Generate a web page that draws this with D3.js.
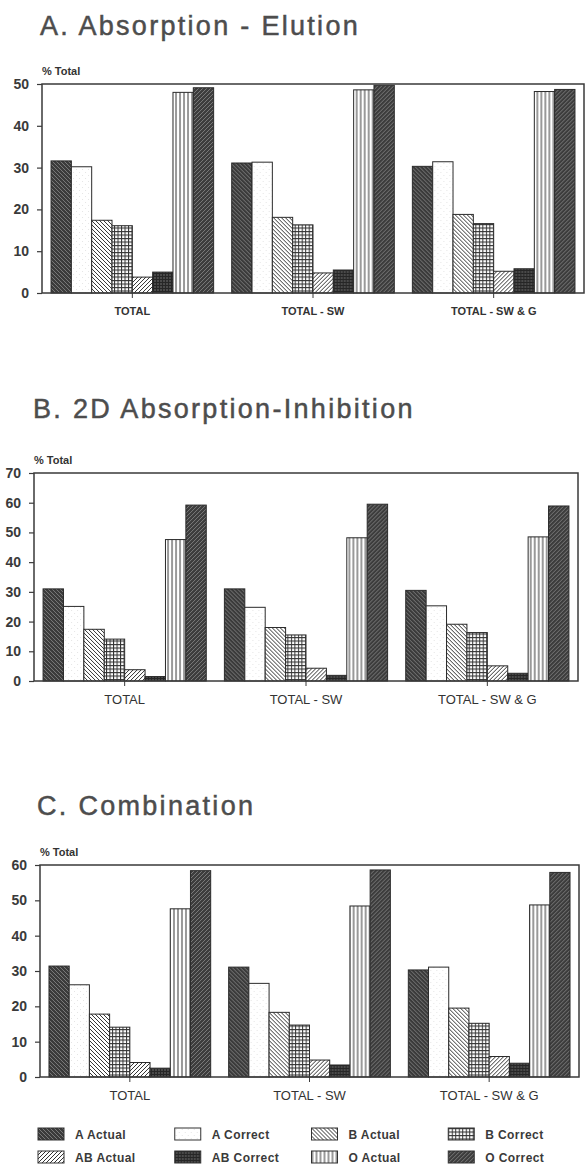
<!DOCTYPE html>
<html>
<head>
<meta charset="utf-8">
<script src="https://cdn.jsdelivr.net/npm/d3@7"></script>
<style>
  body { margin: 0; background: #fff; }
  svg { display: block; font-family: "Liberation Sans", Arial, sans-serif; }
</style>
</head>
<body>
<div id="chart"></div>
<script>
// ------------------------- data
var groups = ["TOTAL", "TOTAL - SW", "TOTAL - SW & G"];
var series = ["A Actual", "A Correct", "B Actual", "B Correct",
              "AB Actual", "AB Correct", "O Actual", "O Correct"];

// one row per group, one value per series (% of total)
var absElution = [
    [31.6, 30.2, 17.4, 16.1, 3.8, 5.0, 48.0, 49.1],
    [31.1, 31.3, 18.1, 16.3, 4.8, 5.5, 48.6, 49.7],
    [30.3, 31.4, 18.8, 16.6, 5.2, 5.8, 48.2, 48.7]
];
var absInhibition = [
    [31.0, 25.1, 17.4, 14.1, 3.8, 1.5, 47.6, 59.2],
    [31.0, 24.8, 18.0, 15.5, 4.3, 1.9, 48.2, 59.5],
    [30.5, 25.3, 19.1, 16.3, 5.1, 2.6, 48.5, 58.9]
];
var combination = [
    [31.4, 26.1, 17.8, 14.1, 4.1, 2.5, 47.6, 58.4],
    [31.1, 26.5, 18.3, 14.7, 4.8, 3.4, 48.4, 58.6],
    [30.3, 31.1, 19.5, 15.2, 5.8, 3.9, 48.7, 57.9]
];

var yTicksA = [0, 10, 20, 30, 40, 50];
var yTicksB = [0, 10, 20, 30, 40, 50, 60, 70];
var yTicksC = [0, 10, 20, 30, 40, 50, 60];

var panels = [
    { title: "A. Absorption - Elution", data: absElution, ticks: yTicksA,
      left: 42, right: 584, top: 84, bottom: 293, titleX: 40, titleY: 35, labelBold: true },
    { title: "B. 2D Absorption-Inhibition", data: absInhibition, ticks: yTicksB,
      left: 34, right: 578, top: 473, bottom: 681, titleX: 33, titleY: 418, labelBold: false },
    { title: "C. Combination", data: combination, ticks: yTicksC,
      left: 40, right: 579, top: 865, bottom: 1077, titleX: 37, titleY: 815, labelBold: false }
];

var svg = d3.select("#chart").append("svg")
    .attr("width", 585)
    .attr("height", 1168);

// ------------------------- hatch patterns, one per series
var defs = svg.append("defs");

function hatch(id, bg, size, lines, stroke, sw) {
    var p = defs.append("pattern")
        .attr("id", id)
        .attr("patternUnits", "userSpaceOnUse")
        .attr("width", size)
        .attr("height", size);
    p.append("rect").attr("width", size).attr("height", size).attr("fill", bg);
    lines.forEach(function(l) {
        p.append("path").attr("d", l)
            .attr("stroke", stroke)
            .attr("stroke-width", sw)
            .attr("fill", "none");
    });
}

var s = 4;
hatch("p0", "#3b3b3b", s, ["M0,0 L4,4 M-1,3 L1,5 M3,-1 L5,1"], "#8a8a8a", 0.8);   // A actual
hatch("p1", "#ffffff", 6, ["M1,1 L1.6,1.6 M4,4 L4.6,4.6"], "#c8c8c8", 0.8);        // A correct
hatch("p2", "#ffffff", s, ["M0,0 L4,4 M-1,3 L1,5 M3,-1 L5,1"], "#333", 1);        // B actual
hatch("p3", "#ffffff", 3.5, ["M0,0.5 H3.5 M0.5,0 V3.5"], "#333", 1);              // B correct
hatch("p4", "#ffffff", s, ["M0,4 L4,0 M-1,1 L1,-1 M3,5 L5,3"], "#333", 1);        // AB actual
hatch("p5", "#4a4a4a", 3, ["M0,0.5 H3 M0.5,0 V3"], "#262626", 1);                 // AB correct
hatch("p6", "#ffffff", 4, ["M1,0 V4"], "#333", 1);                                // O actual
hatch("p7", "#3d3d3d", s, ["M0,4 L4,0 M-1,1 L1,-1 M3,5 L5,3"], "#8a8a8a", 0.8);   // O correct

function fillOf(i) { return "url(#p" + i + ")"; }

// ------------------------- panels
panels.forEach(function(pn) {
    var g = svg.append("g");

    g.append("text")
        .attr("x", pn.titleX)
        .attr("y", pn.titleY)
        .attr("font-size", 27)
        .attr("letter-spacing", 2.3)
        .attr("fill", "#4d4d4d")
        .attr("stroke", "#4d4d4d")
        .attr("stroke-width", 0.5)
        .text(pn.title);

    var x0 = d3.scaleBand()
        .domain(groups)
        .range([pn.left, pn.right])
        .paddingInner(0.1)
        .paddingOuter(0.05);
    var x1 = d3.scaleBand()
        .domain(d3.range(series.length))
        .range([0, x0.bandwidth()]);
    var y = d3.scaleLinear()
        .domain([0, d3.max(pn.ticks)])
        .range([pn.bottom, pn.top]);

    // "% Total"
    g.append("text")
        .attr("x", pn.left)
        .attr("y", pn.top - 9)
        .attr("font-size", 11)
        .attr("font-weight", "bold")
        .attr("fill", "#333")
        .text("% Total");

    // bars
    var grp = g.selectAll(".grp")
        .data(pn.data)
        .enter().append("g")
        .attr("transform", function(d, i) { return "translate(" + x0(groups[i]) + ",0)"; });

    grp.selectAll("rect")
        .data(function(d) { return d; })
        .enter().append("rect")
        .attr("x", function(d, i) { return x1(i); })
        .attr("y", function(d) { return y(d); })
        .attr("width", x1.bandwidth())
        .attr("height", function(d) { return pn.bottom - y(d); })
        .attr("fill", function(d, i) { return fillOf(i); })
        .attr("stroke", "#2b2b2b")
        .attr("stroke-width", 1);

    // frame
    g.append("rect")
        .attr("x", pn.left)
        .attr("y", pn.top)
        .attr("width", pn.right - pn.left)
        .attr("height", pn.bottom - pn.top)
        .attr("fill", "none")
        .attr("stroke", "#3a3a3a")
        .attr("stroke-width", 1.5);

    // y axis
    var ya = g.append("g")
        .attr("transform", "translate(" + pn.left + ",0)")
        .call(d3.axisLeft(y).tickValues(pn.ticks).tickSize(5).tickPadding(8));
    ya.select(".domain").remove();
    ya.selectAll("line").attr("stroke", "#3a3a3a").attr("stroke-width", 1.2);
    ya.selectAll("text")
        .attr("font-size", 14)
        .attr("font-weight", "bold")
        .attr("fill", "#3a3a3a")
        .style("font-family", "Liberation Sans, Arial, sans-serif");

    // x axis
    var xa = g.append("g")
        .attr("transform", "translate(0," + pn.bottom + ")")
        .call(d3.axisBottom(x0).tickSize(5).tickPadding(9));
    xa.select(".domain").remove();
    xa.selectAll("line").attr("stroke", "#3a3a3a");
    xa.selectAll("text")
        .attr("font-size", pn.labelBold ? 11 : 13)
        .attr("font-weight", pn.labelBold ? "bold" : "normal")
        .attr("fill", "#333")
        .style("font-family", "Liberation Sans, Arial, sans-serif");
});

// ------------------------- legend
var legX = d3.scaleBand().domain(d3.range(4)).range([38, 585]);
var legY = d3.scaleBand().domain(d3.range(2)).range([1128, 1174]);

var leg = svg.selectAll(".leg")
    .data(series)
    .enter().append("g")
    .attr("transform", function(d, i) {
        return "translate(" + legX(i % 4) + "," + legY(Math.floor(i / 4)) + ")";
    });

leg.append("rect")
    .attr("width", 26)
    .attr("height", 12)
    .attr("fill", function(d, i) { return fillOf(i); })
    .attr("stroke", "#333")
    .attr("stroke-width", 1);

leg.append("text")
    .attr("x", 37)
    .attr("y", 11)
    .attr("font-size", 12)
    .attr("font-weight", "bold")
    .attr("letter-spacing", 0.4)
    .attr("fill", "#3a3a3a")
    .text(function(d) { return d; });
</script>
</body>
</html>
